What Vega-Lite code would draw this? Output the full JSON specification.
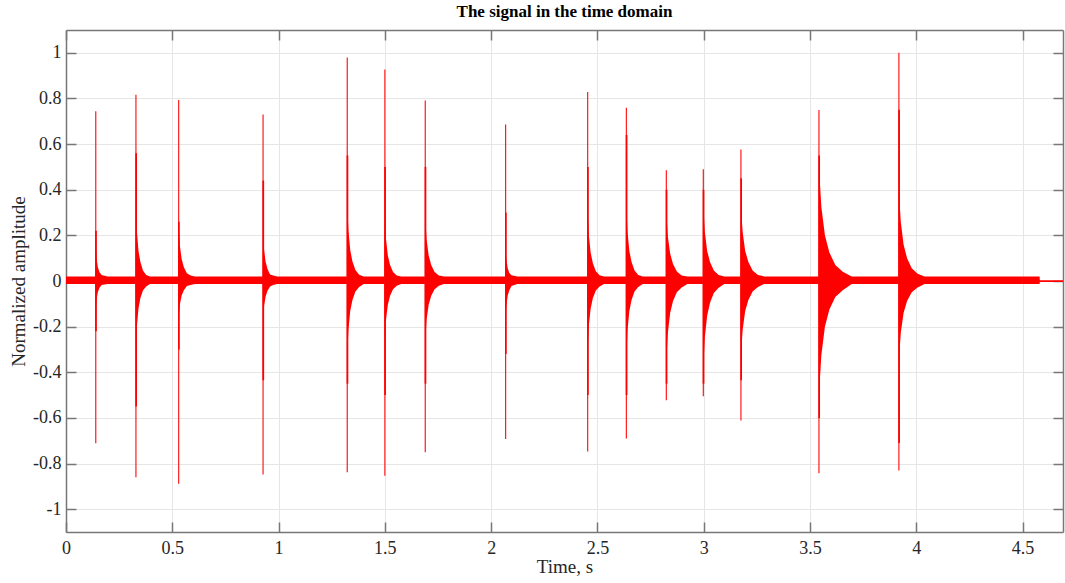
{
  "$schema": "https://vega.github.io/schema/vega-lite/v6.json",
  "width": 997,
  "height": 502,
  "autosize": {"type": "none"},
  "padding": {"left": 66, "top": 30, "right": 2, "bottom": 51},
  "background": "#ffffff",
  "config": {
    "view": {"stroke": null},
    "font": "Liberation Serif",
    "axis": {
      "labelFont": "Liberation Serif",
      "titleFont": "Liberation Serif",
      "labelFontSize": 18,
      "titleFontSize": 19,
      "titleFontWeight": "normal",
      "labelColor": "#262626",
      "titleColor": "#262626",
      "domainColor": "#777777",
      "domainWidth": 1.5,
      "tickColor": "#777777",
      "tickWidth": 1.5,
      "gridColor": "#e6e6e6",
      "gridWidth": 1,
      "labelFlush": false
    }
  },
  "title": {
    "text": "The signal in the time domain",
    "font": "Liberation Serif",
    "fontSize": 17,
    "fontWeight": "bold",
    "color": "#000000",
    "anchor": "middle",
    "offset": 8
  },
  "datasets": {
    "env": [
      {"t": 0, "lo": -0.013, "hi": 0.02},
      {"t": 0.139, "lo": -0.013, "hi": 0.02},
      {"t": 0.140, "lo": -0.12, "hi": 0.15},
      {"t": 0.144, "lo": -0.078, "hi": 0.098},
      {"t": 0.150, "lo": -0.048, "hi": 0.06},
      {"t": 0.1575, "lo": -0.03, "hi": 0.038},
      {"t": 0.1675, "lo": -0.018, "hi": 0.026},
      {"t": 0.195, "lo": -0.013, "hi": 0.02},
      {"t": 0.328, "lo": -0.013, "hi": 0.02},
      {"t": 0.329, "lo": -0.30, "hi": 0.33},
      {"t": 0.3338, "lo": -0.195, "hi": 0.215},
      {"t": 0.341, "lo": -0.12, "hi": 0.132},
      {"t": 0.350, "lo": -0.075, "hi": 0.083},
      {"t": 0.362, "lo": -0.042, "hi": 0.046},
      {"t": 0.377, "lo": -0.024, "hi": 0.026},
      {"t": 0.395, "lo": -0.013, "hi": 0.02},
      {"t": 0.529, "lo": -0.013, "hi": 0.02},
      {"t": 0.530, "lo": -0.16, "hi": 0.24},
      {"t": 0.5356, "lo": -0.104, "hi": 0.156},
      {"t": 0.544, "lo": -0.064, "hi": 0.096},
      {"t": 0.5545, "lo": -0.04, "hi": 0.06},
      {"t": 0.5685, "lo": -0.022, "hi": 0.034},
      {"t": 0.586, "lo": -0.017, "hi": 0.024},
      {"t": 0.607, "lo": -0.013, "hi": 0.02},
      {"t": 0.926, "lo": -0.013, "hi": 0.02},
      {"t": 0.927, "lo": -0.17, "hi": 0.21},
      {"t": 0.9318, "lo": -0.11, "hi": 0.137},
      {"t": 0.939, "lo": -0.068, "hi": 0.084},
      {"t": 0.948, "lo": -0.043, "hi": 0.053},
      {"t": 0.960, "lo": -0.024, "hi": 0.029},
      {"t": 0.975, "lo": -0.017, "hi": 0.024},
      {"t": 0.993, "lo": -0.013, "hi": 0.02},
      {"t": 1.322, "lo": -0.013, "hi": 0.02},
      {"t": 1.323, "lo": -0.33, "hi": 0.34},
      {"t": 1.3286, "lo": -0.215, "hi": 0.221},
      {"t": 1.337, "lo": -0.132, "hi": 0.136},
      {"t": 1.3475, "lo": -0.083, "hi": 0.085},
      {"t": 1.3615, "lo": -0.046, "hi": 0.048},
      {"t": 1.379, "lo": -0.026, "hi": 0.027},
      {"t": 1.400, "lo": -0.013, "hi": 0.02},
      {"t": 1.499, "lo": -0.013, "hi": 0.02},
      {"t": 1.500, "lo": -0.26, "hi": 0.28},
      {"t": 1.5056, "lo": -0.169, "hi": 0.182},
      {"t": 1.514, "lo": -0.104, "hi": 0.112},
      {"t": 1.5245, "lo": -0.065, "hi": 0.07},
      {"t": 1.5385, "lo": -0.036, "hi": 0.039},
      {"t": 1.556, "lo": -0.021, "hi": 0.024},
      {"t": 1.577, "lo": -0.013, "hi": 0.02},
      {"t": 1.689, "lo": -0.013, "hi": 0.02},
      {"t": 1.690, "lo": -0.26, "hi": 0.28},
      {"t": 1.6964, "lo": -0.169, "hi": 0.182},
      {"t": 1.706, "lo": -0.104, "hi": 0.112},
      {"t": 1.718, "lo": -0.065, "hi": 0.07},
      {"t": 1.734, "lo": -0.036, "hi": 0.039},
      {"t": 1.754, "lo": -0.021, "hi": 0.024},
      {"t": 1.778, "lo": -0.013, "hi": 0.02},
      {"t": 2.067, "lo": -0.013, "hi": 0.02},
      {"t": 2.068, "lo": -0.16, "hi": 0.14},
      {"t": 2.072, "lo": -0.104, "hi": 0.091},
      {"t": 2.078, "lo": -0.064, "hi": 0.056},
      {"t": 2.0855, "lo": -0.04, "hi": 0.035},
      {"t": 2.0955, "lo": -0.022, "hi": 0.025},
      {"t": 2.123, "lo": -0.013, "hi": 0.02},
      {"t": 2.453, "lo": -0.013, "hi": 0.02},
      {"t": 2.454, "lo": -0.30, "hi": 0.31},
      {"t": 2.4596, "lo": -0.195, "hi": 0.2},
      {"t": 2.468, "lo": -0.12, "hi": 0.124},
      {"t": 2.4785, "lo": -0.075, "hi": 0.078},
      {"t": 2.4925, "lo": -0.042, "hi": 0.043},
      {"t": 2.510, "lo": -0.024, "hi": 0.025},
      {"t": 2.531, "lo": -0.013, "hi": 0.02},
      {"t": 2.635, "lo": -0.013, "hi": 0.02},
      {"t": 2.636, "lo": -0.33, "hi": 0.33},
      {"t": 2.6416, "lo": -0.215, "hi": 0.215},
      {"t": 2.650, "lo": -0.132, "hi": 0.132},
      {"t": 2.6605, "lo": -0.083, "hi": 0.083},
      {"t": 2.6745, "lo": -0.046, "hi": 0.046},
      {"t": 2.692, "lo": -0.026, "hi": 0.026},
      {"t": 2.713, "lo": -0.013, "hi": 0.02},
      {"t": 2.823, "lo": -0.013, "hi": 0.02},
      {"t": 2.824, "lo": -0.35, "hi": 0.30},
      {"t": 2.8312, "lo": -0.228, "hi": 0.195},
      {"t": 2.842, "lo": -0.14, "hi": 0.12},
      {"t": 2.8555, "lo": -0.088, "hi": 0.075},
      {"t": 2.8735, "lo": -0.049, "hi": 0.042},
      {"t": 2.896, "lo": -0.028, "hi": 0.024},
      {"t": 2.923, "lo": -0.013, "hi": 0.02},
      {"t": 2.997, "lo": -0.013, "hi": 0.02},
      {"t": 2.998, "lo": -0.38, "hi": 0.33},
      {"t": 3.0052, "lo": -0.247, "hi": 0.215},
      {"t": 3.016, "lo": -0.152, "hi": 0.132},
      {"t": 3.0295, "lo": -0.095, "hi": 0.083},
      {"t": 3.0475, "lo": -0.053, "hi": 0.046},
      {"t": 3.070, "lo": -0.03, "hi": 0.026},
      {"t": 3.097, "lo": -0.013, "hi": 0.02},
      {"t": 3.174, "lo": -0.013, "hi": 0.02},
      {"t": 3.175, "lo": -0.33, "hi": 0.33},
      {"t": 3.183, "lo": -0.215, "hi": 0.215},
      {"t": 3.195, "lo": -0.132, "hi": 0.132},
      {"t": 3.210, "lo": -0.083, "hi": 0.083},
      {"t": 3.230, "lo": -0.046, "hi": 0.046},
      {"t": 3.255, "lo": -0.026, "hi": 0.026},
      {"t": 3.285, "lo": -0.013, "hi": 0.02},
      {"t": 3.541, "lo": -0.013, "hi": 0.02},
      {"t": 3.542, "lo": -0.5, "hi": 0.5},
      {"t": 3.5532, "lo": -0.325, "hi": 0.325},
      {"t": 3.570, "lo": -0.2, "hi": 0.2},
      {"t": 3.591, "lo": -0.125, "hi": 0.125},
      {"t": 3.619, "lo": -0.07, "hi": 0.07},
      {"t": 3.654, "lo": -0.04, "hi": 0.04},
      {"t": 3.696, "lo": -0.013, "hi": 0.02},
      {"t": 3.917, "lo": -0.013, "hi": 0.02},
      {"t": 3.918, "lo": -0.35, "hi": 0.4},
      {"t": 3.9268, "lo": -0.228, "hi": 0.26},
      {"t": 3.940, "lo": -0.14, "hi": 0.16},
      {"t": 3.9565, "lo": -0.088, "hi": 0.1},
      {"t": 3.9785, "lo": -0.049, "hi": 0.056},
      {"t": 4.006, "lo": -0.028, "hi": 0.032},
      {"t": 4.039, "lo": -0.013, "hi": 0.02},
      {"t": 4.580, "lo": -0.013, "hi": 0.02},
      {"t": 4.581, "lo": -0.004, "hi": 0.003},
      {"t": 4.69, "lo": -0.004, "hi": 0.003}
    ],
    "peaks": [
      {"t": 0.140, "lo": -0.711, "hi": 0.744},
      {"t": 0.329, "lo": -0.860, "hi": 0.816},
      {"t": 0.530, "lo": -0.889, "hi": 0.793},
      {"t": 0.927, "lo": -0.848, "hi": 0.730},
      {"t": 1.323, "lo": -0.838, "hi": 0.979},
      {"t": 1.500, "lo": -0.853, "hi": 0.927},
      {"t": 1.690, "lo": -0.750, "hi": 0.791},
      {"t": 2.068, "lo": -0.692, "hi": 0.686},
      {"t": 2.454, "lo": -0.747, "hi": 0.828},
      {"t": 2.636, "lo": -0.690, "hi": 0.759},
      {"t": 2.824, "lo": -0.523, "hi": 0.485},
      {"t": 2.998, "lo": -0.505, "hi": 0.490},
      {"t": 3.175, "lo": -0.611, "hi": 0.576},
      {"t": 3.542, "lo": -0.843, "hi": 0.749},
      {"t": 3.918, "lo": -0.830, "hi": 1.000}
    ],
    "cores": [
      {"t": 0.141, "lo": -0.22, "hi": 0.22},
      {"t": 0.330, "lo": -0.55, "hi": 0.56},
      {"t": 0.531, "lo": -0.30, "hi": 0.26},
      {"t": 0.928, "lo": -0.435, "hi": 0.44},
      {"t": 1.324, "lo": -0.45, "hi": 0.55},
      {"t": 1.501, "lo": -0.5, "hi": 0.5},
      {"t": 1.691, "lo": -0.45, "hi": 0.5},
      {"t": 2.069, "lo": -0.32, "hi": 0.30},
      {"t": 2.455, "lo": -0.5, "hi": 0.5},
      {"t": 2.637, "lo": -0.5, "hi": 0.64},
      {"t": 2.825, "lo": -0.45, "hi": 0.40},
      {"t": 2.999, "lo": -0.45, "hi": 0.40},
      {"t": 3.176, "lo": -0.435, "hi": 0.45},
      {"t": 3.543, "lo": -0.6, "hi": 0.55},
      {"t": 3.919, "lo": -0.71, "hi": 0.75}
    ]
  },
  "resolve": {"axis": {"x": "independent", "y": "independent"}},
  "layer": [
    {
      "data": {"name": "env"},
      "mark": {"type": "area", "color": "#ff0000", "opacity": 1, "interpolate": "linear"},
      "encoding": {
        "x": {
          "field": "t", "type": "quantitative",
          "scale": {"domain": [0, 4.69], "nice": false, "zero": false},
          "axis": {
            "orient": "bottom",
            "title": "Time, s",
            "values": [0, 0.5, 1, 1.5, 2, 2.5, 3, 3.5, 4, 4.5],
            "format": "~g",
            "labelFontSize": 18,
            "labelFlush": false,
            "tickSize": -10,
            "labelPadding": 17,
            "titlePadding": 0,
            "grid": true
          }
        },
        "y": {
          "field": "hi", "type": "quantitative",
          "scale": {"domain": [-1.1, 1.1], "nice": false, "zero": false},
          "axis": {
            "orient": "left",
            "title": "Normalized amplitude",
            "values": [-1, -0.8, -0.6, -0.4, -0.2, 0, 0.2, 0.4, 0.6, 0.8, 1],
            "labelExpr": "replace(format(datum.value, '~g'), '\u2212', '-')",
            "labelFontSize": 18,
            "labelFlush": false,
            "tickSize": -10,
            "labelPadding": 15,
            "titlePadding": 4,
            "grid": true
          }
        },
        "y2": {"field": "lo"}
      }
    },
    {
      "data": {"name": "peaks"},
      "mark": {"type": "rule", "color": "#ff1a1a", "strokeWidth": 1.2},
      "encoding": {
        "x": {
          "field": "t", "type": "quantitative",
          "axis": {"orient": "top", "title": null, "labels": false, "grid": false,
                   "values": [0, 0.5, 1, 1.5, 2, 2.5, 3, 3.5, 4, 4.5], "tickSize": -10}
        },
        "y": {
          "field": "lo", "type": "quantitative",
          "axis": {"orient": "right", "title": null, "labels": false, "grid": false,
                   "values": [-1, -0.8, -0.6, -0.4, -0.2, 0, 0.2, 0.4, 0.6, 0.8, 1], "tickSize": -10}
        },
        "y2": {"field": "hi"}
      }
    },
    {
      "data": {"name": "cores"},
      "mark": {"type": "rule", "color": "#ff0000", "strokeWidth": 1.7},
      "encoding": {
        "x": {"field": "t", "type": "quantitative", "axis": null},
        "y": {"field": "lo", "type": "quantitative", "axis": null},
        "y2": {"field": "hi"}
      }
    }
  ]
}
